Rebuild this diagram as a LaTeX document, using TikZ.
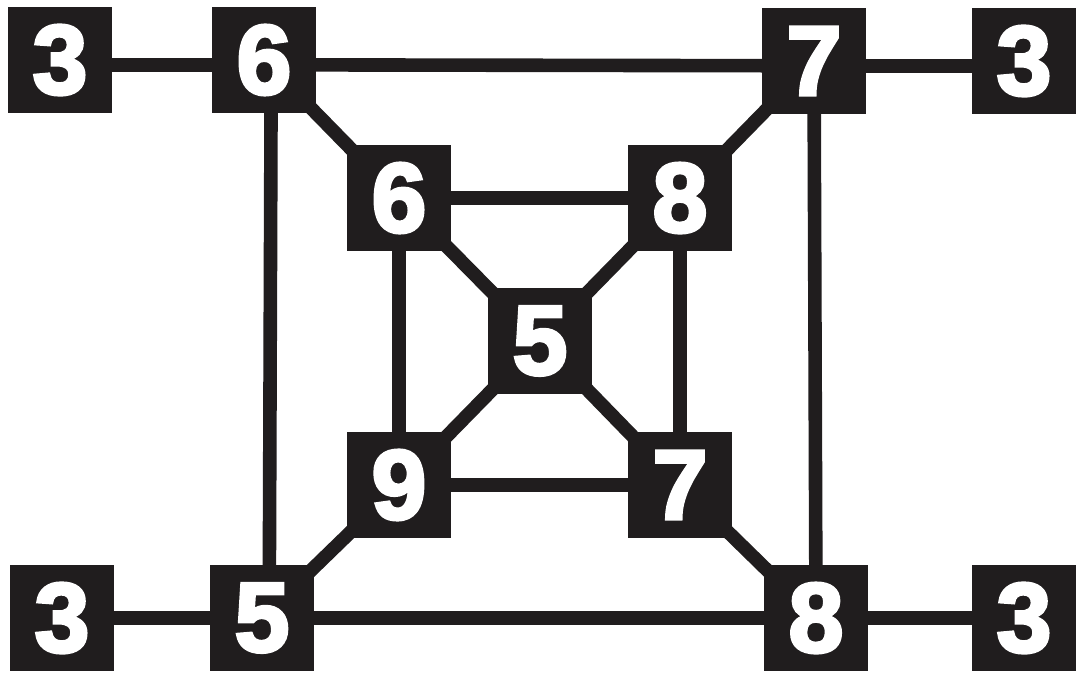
\documentclass[tikz,border=0pt]{standalone}
\usepackage{fontspec}
\usetikzlibrary{backgrounds}
\newfontfamily\digitfont{Liberation Sans}[BoldFeatures={FakeBold=3.5}]
\definecolor{inkdark}{RGB}{32,29,30}

\tikzset{
  numbox/.style={fill=inkdark,text=white,minimum width=2.6cm,minimum height=2.64cm,
    inner sep=0pt,font=\digitfont\bfseries\fontsize{70}{70}\selectfont},
  wire/.style={draw=inkdark,line width=0.34cm}
}

\begin{document}
\begin{tikzpicture}[x=0.025cm,y=-0.025cm]
    % outer ring
    \node[numbox] (tl3) at (60,60)   {3};
    \node[numbox] (t6)  at (264,60)  {6};
    \node[numbox] (t7)  at (814,61)  {7};
    \node[numbox] (tr3) at (1024,61) {3};
    \node[numbox] (bl3) at (62,618)  {3};
    \node[numbox] (b5)  at (262,618) {5};
    \node[numbox] (b8)  at (816,618) {8};
    \node[numbox] (br3) at (1024,618) {3};
    % inner square
    \node[numbox] (m6) at (399,198) {6};
    \node[numbox] (m8) at (680,198) {8};
    \node[numbox] (c5) at (540,341) {5};
    \node[numbox] (m9) at (399,485) {9};
    \node[numbox] (m7) at (680,485) {7};

    \begin{scope}[on background layer]
      \fill[white] (0,0) rectangle (1078,674);
      \foreach \a/\b in {bl3/b5,b5/b8,b8/br3,
          t6/m6,t7/m8,m9/b5,m7/b8,m6/m8,m9/m7,m6/m9,m8/m7,
          m6/c5,m8/c5,m9/c5,m7/c5,t7/b8}
        \draw[wire] (\a.center) -- (\b.center);
      \foreach \a/\b in {tl3/t6,t6/t7,t7/tr3}
        \draw[wire] ([yshift=-0.12cm]\a.center) -- ([yshift=-0.12cm]\b.center);
      \draw[wire] ([xshift=0.18cm]t6.center) -- ([xshift=0.18cm]b5.center);
    \end{scope}
    \useasboundingbox (0,0) rectangle (1078,674);
\end{tikzpicture}
\end{document}
